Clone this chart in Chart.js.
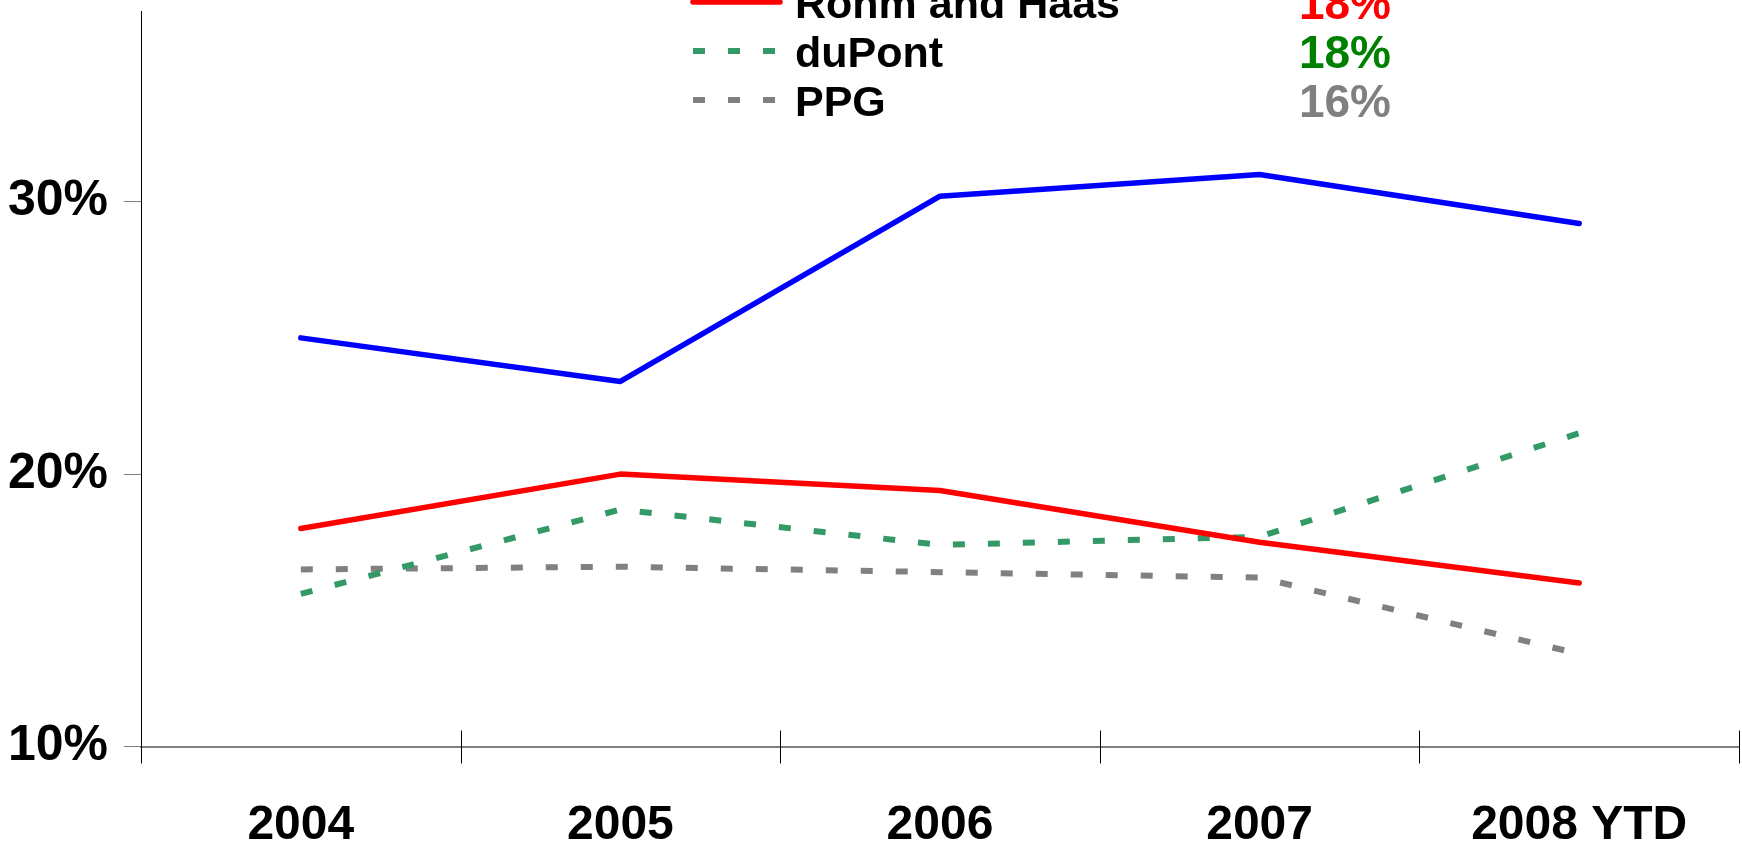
<!DOCTYPE html>
<html>
<head>
<meta charset="utf-8">
<script src="https://cdn.jsdelivr.net/npm/chart.js@4"></script>
<style>
  html, body { margin: 0; padding: 0; background: #fff; }
</style>
</head>
<body>
<canvas id="roicChart" width="1742" height="846"></canvas>
<script>
// categories and values (percent)
const years = ['2004', '2005', '2006', '2007', '2008 YTD'];
const seriesNames = ['Company', 'Rohm and Haas', 'duPont', 'PPG'];
const companyValues = [25.0, 23.4, 30.2, 31.0, 29.2];
const rohmValues = [18.0, 20.0, 19.4, 17.5, 16.0];
const dupontValues = [15.6, 18.7, 17.4, 17.7, 21.5];
const ppgValues = [16.5, 16.6, 16.4, 16.2, 13.4];
const averageLabels = ['28%', '18%', '18%', '16%'];
const yTicks = [10, 20, 30];

const lineColors = ['#0000ff', '#ff0000', '#339966', '#808080'];
const textColors = ['#0000ff', '#ff0000', '#008000', '#808080'];
const FONT = '"Liberation Sans", Arial, sans-serif';

const ctx = document.getElementById('roicChart').getContext('2d');

// tick marks across the x axis + legend block at the top
const extras = {
  id: 'extras',
  afterDraw(chart) {
    const c = chart.ctx;
    const x = chart.scales.x;
    const area = chart.chartArea;
    const half = (x.getPixelForValue(1) - x.getPixelForValue(0)) / 2;
    c.save();
    c.strokeStyle = '#000';
    c.lineWidth = 1;
    for (let i = 0; i <= years.length; i++) {
      const px = Math.round(x.getPixelForValue(0) - half + i * 2 * half) + 0.5;
      c.beginPath();
      c.moveTo(px, area.bottom - 16);
      c.lineTo(px, area.bottom + 17);
      c.stroke();
    }

    // legend rows
    chart.data.datasets.forEach((ds, i) => {
      const y = 2 + (i - 1) * 49;
      c.beginPath();
      c.strokeStyle = ds.borderColor;
      c.lineWidth = ds.borderWidth;
      c.setLineDash(ds.borderDash || []);
      c.lineCap = ds.borderDash ? 'butt' : 'round';
      c.moveTo(693, y);
      c.lineTo(780, y);
      c.stroke();
      c.setLineDash([]);
      c.textBaseline = 'middle';
      c.fillStyle = '#000';
      c.textAlign = 'left';
      c.font = 'bold 43px ' + FONT;
      c.fillText(ds.label, 795, y + 4);
      c.fillStyle = textColors[i];
      c.textAlign = 'right';
      c.font = 'bold 46px ' + FONT;
      c.fillText(averageLabels[i], 1391, y + 4);
    });
    c.restore();
  }
};

const values = [companyValues, rohmValues, dupontValues, ppgValues];

const chart = new Chart(ctx, {
  type: 'line',
  data: {
    labels: years,
    datasets: values.map((v, i) => ({
      label: seriesNames[i],
      data: v,
      borderColor: lineColors[i],
      borderWidth: i < 2 ? 5.5 : 6,
      borderDash: i < 2 ? undefined : [12, 23],
      borderCapStyle: i < 2 ? 'round' : 'butt',
      borderJoinStyle: 'round',
      pointRadius: 0,
      tension: 0,
      fill: false
    }))
  },
  options: {
    responsive: false,
    animation: false,
    layout: { padding: { top: 11, right: 3 } },
    plugins: { legend: { display: false }, tooltip: { enabled: false } },
    scales: {
      x: {
        offset: true,
        grid: { display: false },
        border: { color: '#808080', width: 2 },
        ticks: { color: '#000', font: { family: FONT, size: 48, weight: 'bold' }, padding: 42 },
        afterFit(s) { s.height = 99.5; }
      },
      y: {
        min: 10,
        max: 37,
        grid: { drawOnChartArea: false, tickLength: 17, color: '#808080' },
        border: { color: '#000', width: 1 },
        ticks: {
          color: '#000',
          padding: 16,
          font: { family: FONT, size: 50, weight: 'bold' },
          callback: v => v + '%'
        },
        afterBuildTicks(s) { s.ticks = yTicks.map(v => ({ value: v })); },
        afterFit(s) { s.width = 141; s.paddingTop = 0; s.paddingBottom = 0; }
      }
    }
  },
  plugins: [extras]
});
</script>
</body>
</html>
